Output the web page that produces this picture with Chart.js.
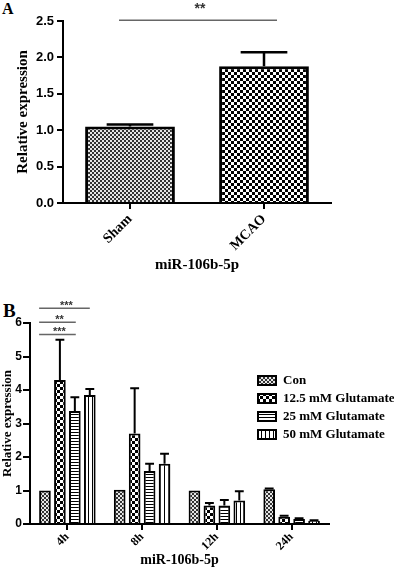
<!DOCTYPE html>
<html>
<head>
<meta charset="utf-8">
<script src="https://cdn.jsdelivr.net/npm/chart.js@4/dist/chart.umd.min.js"></script>
<style>
  body { margin: 0; background: #fff; width: 394px; height: 570px; position: relative; overflow: hidden; }
  .wrap { position: absolute; left: 0; width: 394px; }
  .panel { position: absolute; font: bold 16px "Liberation Serif", serif; color: #000; }
  #legendB { position: absolute; left: 257px; top: 371px; width: 137px; font: bold 13px "Liberation Serif", serif; white-space: nowrap; }
  #legendB .item { display: flex; align-items: center; height: 18px; }
  #legendB canvas { display: block; margin-right: 6px; flex: none; }
</style>
</head>
<body>
<div class="panel" style="left:2px;top:0px;font-size:16px">A</div>
<div class="wrap" style="top:0;height:282px"><canvas id="chartA"></canvas></div>
<div class="panel" style="left:3px;top:300px;font-size:19px">B</div>
<div class="wrap" style="top:285px;height:285px"><canvas id="chartB"></canvas></div>
<div id="legendB"></div>
<script>
// Panel A: miR-106b-5p, Sham vs MCAO
const catA = ["Sham", "MCAO"];
const valA = [1.05, 1.88];
const errA = [0.03, 0.19];

// Panel B: glutamate time course
const catB = ["4h", "8h", "12h", "24h"];
const seriesB = ["Con", "12.5 mM Glutamate", "25 mM Glutamate", "50 mM Glutamate"];
const conB = [1.0, 1.02, 1.0, 1.04];
const g125B = [4.3, 2.7, 0.55, 0.22];
const g25B = [3.37, 1.58, 0.55, 0.15];
const g50B = [3.85, 1.8, 0.7, 0.1];
const conErrB = [0, 0, 0, 0.02];
const g125ErrB = [1.2, 1.35, 0.08, 0.03];
const g25ErrB = [0.41, 0.22, 0.17, 0.02];
const g50ErrB = [0.18, 0.3, 0.28, 0.01];

// significance marks in B (all against Con at 4h)
const sigTargets = [3, 2, 1];
const sigLevels = [6.44, 6.02, 5.66];
const sigMarks = ["***", "**", "***"];

const SERIF = "'Liberation Serif', 'Times New Roman', serif";
const SANS = "'Liberation Sans', Arial, sans-serif";

function makePattern(ctx, kind) {
  const t = document.createElement("canvas");
  const c = t.getContext("2d");
  if (kind === "fine") {
    t.width = 4; t.height = 4;
    c.fillStyle = "#e6e6e6"; c.fillRect(0, 0, 4, 4);
    c.fillStyle = "#333"; c.fillRect(0, 0, 2, 2); c.fillRect(2, 2, 2, 2);
  } else if (kind === "coarse") {
    t.width = 6; t.height = 6;
    c.fillStyle = "#fff"; c.fillRect(0, 0, 6, 6);
    c.fillStyle = "#000"; c.fillRect(0, 0, 3, 3); c.fillRect(3, 3, 3, 3);
  } else if (kind === "hlines") {
    t.width = 3; t.height = 3;
    c.fillStyle = "#fff"; c.fillRect(0, 0, 3, 3);
    c.fillStyle = "#000"; c.fillRect(0, 0, 3, 1);
  } else {
    t.width = 4; t.height = 4;
    c.fillStyle = "#fff"; c.fillRect(0, 0, 4, 4);
    c.fillStyle = "#000"; c.fillRect(0, 0, 1, 4);
  }
  return ctx.createPattern(t, "repeat");
}

const errorBars = {
  id: "errorBars",
  afterDatasetsDraw(chart, args, opts) {
    const ctx = chart.ctx;
    const y = chart.scales.y;
    ctx.save();
    ctx.strokeStyle = "#000";
    ctx.lineWidth = opts.lineWidth;
    chart.data.datasets.forEach((ds, di) => {
      const meta = chart.getDatasetMeta(di);
      meta.data.forEach((bar, i) => {
        const e = ds.errors[i];
        if (!e) return;
        const top = y.getPixelForValue(ds.data[i] + e);
        const half = bar.width * opts.cap;
        ctx.beginPath();
        ctx.moveTo(bar.x, bar.y);
        ctx.lineTo(bar.x, top);
        ctx.moveTo(bar.x - half, top);
        ctx.lineTo(bar.x + half, top);
        ctx.stroke();
      });
    });
    ctx.restore();
  },
};

function sigLine(ctx, x1, x2, yy, mark, size, lift) {
  ctx.save();
  ctx.strokeStyle = "#666";
  ctx.lineWidth = 1.5;
  ctx.beginPath();
  ctx.moveTo(x1, yy);
  ctx.lineTo(x2, yy);
  ctx.stroke();
  ctx.fillStyle = "#333";
  ctx.font = "bold " + size + "px " + SANS;
  ctx.textAlign = "center";
  ctx.textBaseline = "alphabetic";
  ctx.fillText(mark, (x1 + x2) / 2 + 2, yy - lift);
  ctx.restore();
}

const sigA = {
  id: "sigA",
  afterDraw(chart) {
    const x = chart.scales.x;
    const yy = chart.scales.y.getPixelForValue(2.51);
    sigLine(chart.ctx, x.getPixelForValue(0) - 11, x.getPixelForValue(1) + 13, yy, "**", 14, 7);
  },
};

const sigB = {
  id: "sigB",
  afterDraw(chart) {
    const y = chart.scales.y;
    const con = chart.getDatasetMeta(0).data[0];
    sigTargets.forEach((t, k) => {
      const bar = chart.getDatasetMeta(t).data[0];
      const x2 = Math.max(bar.x, con.x + con.width / 2 + 25);
      sigLine(chart.ctx, con.x - con.width / 2, x2, y.getPixelForValue(sigLevels[k]), sigMarks[k], 11, -1);
    });
  },
};

function axisStyle(extra) {
  return Object.assign({
    grid: { display: true, drawOnChartArea: false, drawTicks: true, tickLength: 6, color: "#000", lineWidth: 2, offset: false },
    border: { display: true, color: "#000", width: 2 },
  }, extra);
}

// ----- chart A -----
const ctxA = document.getElementById("chartA").getContext("2d");
new Chart(ctxA, {
  type: "bar",
  data: {
    labels: catA,
    datasets: [{
      data: valA,
      errors: errA,
      backgroundColor: [makePattern(ctxA, "fine"), makePattern(ctxA, "coarse")],
      borderColor: "#000",
      borderWidth: 3,
      barPercentage: 0.67,
      categoryPercentage: 1,
    }],
  },
  options: {
    responsive: true,
    maintainAspectRatio: false,
    animation: false,
    layout: { padding: { top: 21, right: 63, left: 0, bottom: 0 } },
    plugins: {
      legend: { display: false },
      tooltip: { enabled: false },
      errorBars: { lineWidth: 2.5, cap: 0.26 },
    },
    scales: {
      x: axisStyle({
        ticks: { color: "#000", font: { family: SERIF, size: 14, weight: "bold" }, minRotation: 45, maxRotation: 45, padding: 2 },
        title: { display: true, text: "miR-106b-5p", color: "#000", font: { family: SERIF, size: 15, weight: "bold" }, padding: { top: 0, bottom: 8 } },
        afterFit: (s) => { s.height = 79; },
      }),
      y: axisStyle({
        min: 0,
        max: 2.5,
        ticks: { stepSize: 0.5, color: "#000", font: { family: SANS, size: 13, weight: "bold" }, padding: 3, callback: (v) => v.toFixed(1) },
        title: { display: true, text: "Relative expression", color: "#000", font: { family: SERIF, size: 15, weight: "bold" }, padding: { top: 14, bottom: 0 } },
        afterFit: (s) => { s.width = 63; },
      }),
    },
  },
  plugins: [errorBars, sigA],
});

// ----- chart B -----
const ctxB = document.getElementById("chartB").getContext("2d");
const patKinds = ["fine", "coarse", "hlines", "vlines"];
const valuesB = [conB, g125B, g25B, g50B];
const errorsB = [conErrB, g125ErrB, g25ErrB, g50ErrB];

new Chart(ctxB, {
  type: "bar",
  data: {
    labels: catB,
    datasets: seriesB.map((name, i) => ({
      label: name,
      data: valuesB[i],
      errors: errorsB[i],
      backgroundColor: makePattern(ctxB, patKinds[i]),
      borderColor: "#000",
      borderWidth: 2,
      barPercentage: 0.78,
      categoryPercentage: 0.8,
    })),
  },
  options: {
    responsive: true,
    maintainAspectRatio: false,
    animation: false,
    layout: { padding: { top: 38, right: 65, left: 0, bottom: 0 } },
    plugins: {
      legend: { display: false },
      tooltip: { enabled: false },
      errorBars: { lineWidth: 2, cap: 0.38 },
    },
    scales: {
      x: axisStyle({
        ticks: { color: "#000", font: { family: SERIF, size: 12, weight: "bold" }, minRotation: 45, maxRotation: 45, padding: 0 },
        title: { display: true, text: "miR-106b-5p", color: "#000", font: { family: SERIF, size: 14, weight: "bold" }, padding: { top: 0, bottom: 1 } },
        afterFit: (s) => { s.height = 46; },
      }),
      y: axisStyle({
        min: 0,
        max: 6,
        grid: { display: true, drawOnChartArea: false, drawTicks: true, tickLength: 7, color: "#000", lineWidth: 2 },
        ticks: { stepSize: 1, color: "#000", font: { family: SANS, size: 12, weight: "bold" }, padding: 1 },
        title: { display: true, text: "Relative expression", color: "#000", font: { family: SERIF, size: 13, weight: "bold" }, padding: { top: 0, bottom: 0 } },
        afterFit: (s) => { s.width = 30; },
      }),
    },
  },
  plugins: [errorBars, sigB],
});

// legend for B, swatches use the same patterns
const legendEl = document.getElementById("legendB");
seriesB.forEach((name, i) => {
  const row = document.createElement("div");
  row.className = "item";
  const sw = document.createElement("canvas");
  sw.width = 20;
  sw.height = 11;
  const sctx = sw.getContext("2d");
  sctx.fillStyle = makePattern(sctx, patKinds[i]);
  sctx.fillRect(1, 1, 18, 9);
  sctx.strokeStyle = "#000";
  sctx.lineWidth = 2;
  sctx.strokeRect(1, 1, 18, 9);
  const label = document.createElement("span");
  label.textContent = name;
  row.appendChild(sw);
  row.appendChild(label);
  legendEl.appendChild(row);
});
</script>
</body>
</html>
